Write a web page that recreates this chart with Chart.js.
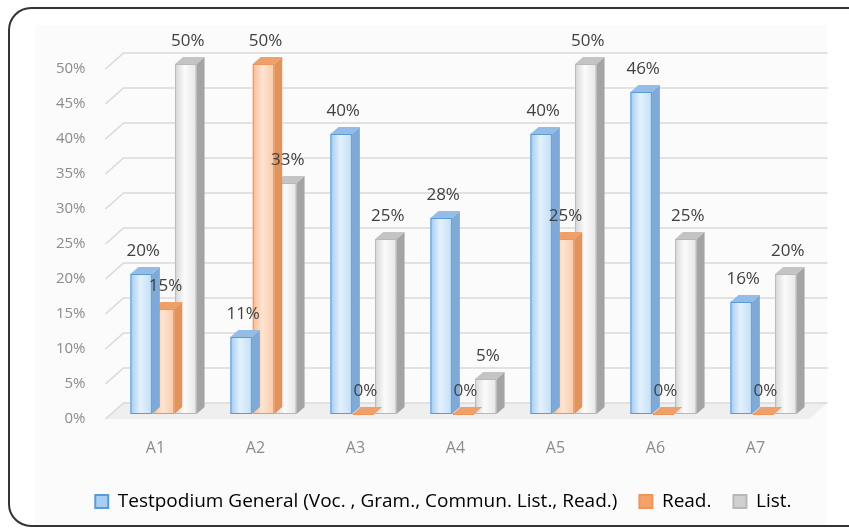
<!DOCTYPE html>
<html>
<head>
<meta charset="utf-8">
<script src="https://cdn.jsdelivr.net/npm/chart.js@4.4.1/dist/chart.umd.min.js"></script>
<style>
  body { margin: 0; background: #fff; }
  #wrap { width: 849px; height: 532px; }
</style>
</head>
<body>
<div id="wrap"><canvas id="chart" width="849" height="532"></canvas></div>
<script>
/* ===================== DATA ===================== */

const categories = ["A1", "A2", "A3", "A4", "A5", "A6", "A7"];
const seriesNames = [
  "Testpodium General (Voc. , Gram., Commun. List., Read.)",
  "Read.",
  "List."
];
const generalValues = [20, 11, 40, 28, 40, 46, 16];
const readValues    = [15, 50, 0, 0, 25, 0, 0];
const listValues    = [50, 33, 25, 5, 50, 25, 20];
const yMax = 50;
const yStep = 5;

/* ===================== STYLE ===================== */

const FONT = "'Open Sans'";
const DEPTH_X = 8, DEPTH_Y = -7;     // bar depth
const WALL_X = 18, WALL_Y = -11;     // back wall offset
const LABEL_SHIFT = 5;               // y labels sit a bit lower than bar plane

const palette = [
  { edge: "#a2cbf1", mid: "#e4f1fd", right: "#c2dff8", side: "#7fa9d6", top: "#93bde6", border: "#5b9bd5", box: "#a8cff2" },
  { edge: "#f9bb92", mid: "#fde4d2", right: "#fbcaa8", side: "#e2935c", top: "#ee9f6a", border: "#f0945a", box: "#f5a26a" },
  { edge: "#d8d8d8", mid: "#fbfbfb", right: "#e6e6e6", side: "#a4a4a4", top: "#c4c4c4", border: "#b8b8b8", box: "#d0d0d0" }
];

/* ===================== PLUGINS ===================== */

const backdrop = {
  id: "backdrop",
  beforeDraw(chart) {
    const { ctx, chartArea: a, scales: { y } } = chart;
    ctx.save();
    ctx.fillStyle = "#fff";
    ctx.fillRect(0, 0, chart.width, chart.height);

    // faint plot background
    ctx.fillStyle = "#fbfbfb";
    ctx.fillRect(35, 25, 792, 500);

    // floor
    const y0 = y.getPixelForValue(0);
    ctx.beginPath();
    ctx.moveTo(a.left - 8, y0 + LABEL_SHIFT);
    ctx.lineTo(a.left - 8 + WALL_X, y0 + WALL_Y);
    ctx.lineTo(a.right + 14, y0 + WALL_Y);
    ctx.lineTo(a.right - 4, y0 + LABEL_SHIFT);
    ctx.closePath();
    ctx.fillStyle = "#efefef";
    ctx.fill();

    // wall gridlines with slanted left end
    ctx.strokeStyle = "#dadada";
    ctx.lineWidth = 1.6;
    for (let v = 0; v <= yMax; v += yStep) {
      const py = y.getPixelForValue(v);
      ctx.beginPath();
      ctx.moveTo(a.left - 8, py + LABEL_SHIFT);
      ctx.lineTo(a.left - 8 + WALL_X, py + WALL_Y);
      ctx.lineTo(a.right + 14, py + WALL_Y);
      ctx.stroke();
    }

    // outer rounded frame
    ctx.beginPath();
    ctx.roundRect(9, 8, 862, 518, 22);
    ctx.strokeStyle = "#333";
    ctx.lineWidth = 2;
    ctx.stroke();
    ctx.restore();
  }
};

const bars3d = {
  id: "bars3d",
  afterDatasetDraw(chart, args) {
    const { ctx } = chart;
    const c = palette[args.index];
    ctx.save();
    args.meta.data.forEach(el => {
      const { x, y, base, width } = el.getProps(["x", "y", "base", "width"], true);
      const l = x - width / 2, r = x + width / 2;

      // front
      const g = ctx.createLinearGradient(l, 0, r, 0);
      g.addColorStop(0, c.edge);
      g.addColorStop(0.45, c.mid);
      g.addColorStop(1, c.right);
      ctx.fillStyle = g;
      ctx.fillRect(l, y, width, base - y);
      ctx.strokeStyle = c.border;
      ctx.lineWidth = 1;
      ctx.strokeRect(l + 0.5, y + 0.5, width - 1, base - y - 1);

      // side
      ctx.beginPath();
      ctx.moveTo(r, y);
      ctx.lineTo(r + DEPTH_X, y + DEPTH_Y);
      ctx.lineTo(r + DEPTH_X, base + DEPTH_Y);
      ctx.lineTo(r, base);
      ctx.closePath();
      ctx.fillStyle = c.side;
      ctx.fill();

      // top
      ctx.beginPath();
      ctx.moveTo(l, y);
      ctx.lineTo(l + DEPTH_X, y + DEPTH_Y);
      ctx.lineTo(r + DEPTH_X, y + DEPTH_Y);
      ctx.lineTo(r, y);
      ctx.closePath();
      ctx.fillStyle = c.top;
      ctx.fill();
    });
    ctx.restore();
  }
};

const valueLabels = {
  id: "valueLabels",
  afterDatasetsDraw(chart) {
    const { ctx } = chart;
    ctx.save();
    ctx.font = "17px " + FONT;
    ctx.fillStyle = "#404040";
    ctx.textAlign = "center";
    ctx.textBaseline = "middle";
    chart.data.datasets.forEach((ds, i) => {
      chart.getDatasetMeta(i).data.forEach((el, j) => {
        const { x, y } = el.getProps(["x", "y"], true);
        ctx.fillText(ds.data[j] + "%", x + 2, y - 23);
      });
    });
    ctx.restore();
  }
};

/* ===================== CHART ===================== */

const seriesValues = [generalValues, readValues, listValues];

new Chart(document.getElementById("chart"), {
  type: "bar",
  data: {
    labels: categories,
    datasets: seriesValues.map((vals, i) => ({
      label: seriesNames[i],
      data: vals,
      backgroundColor: palette[i].mid,
      borderWidth: 0,
      categoryPercentage: 0.67,
      barPercentage: 0.96
    }))
  },
  options: {
    responsive: false,
    devicePixelRatio: 1,
    animation: false,
    layout: { padding: { top: 64, left: 0, right: 35.5, bottom: 11 } },
    scales: {
      x: {
        afterFit(scale) { scale.height = 56; },
        grid: { display: false, drawTicks: false },
        border: { display: false },
        ticks: { color: "#8c8c8c", font: { family: FONT, size: 16 }, padding: 25, labelOffset: -8 }
      },
      y: {
        min: 0, max: yMax,
        afterFit(scale) { scale.width = 113.5; },
        grid: { display: false, drawTicks: false },
        border: { display: false },
        ticks: {
          stepSize: yStep,
          color: "#8c8c8c",
          font: { family: FONT, size: 15 },
          padding: 28,
          labelOffset: LABEL_SHIFT,
          callback: v => v + "%"
        }
      }
    },
    plugins: {
      tooltip: { enabled: false },
      legend: {
        position: "bottom",
        align: "end",
        labels: {
          boxWidth: 13,
          boxHeight: 13,
          padding: 22,
          color: "#8c8c8c",
          font: { family: FONT, size: 19 },
          generateLabels: chart => chart.data.datasets.map((ds, i) => ({
            text: ds.label,
            fillStyle: palette[i].box,
            strokeStyle: palette[i].border,
            lineWidth: 2,
            datasetIndex: i,
            hidden: false
          }))
        }
      }
    }
  },
  plugins: [backdrop, bars3d, valueLabels]
});
</script>
</body>
</html>
